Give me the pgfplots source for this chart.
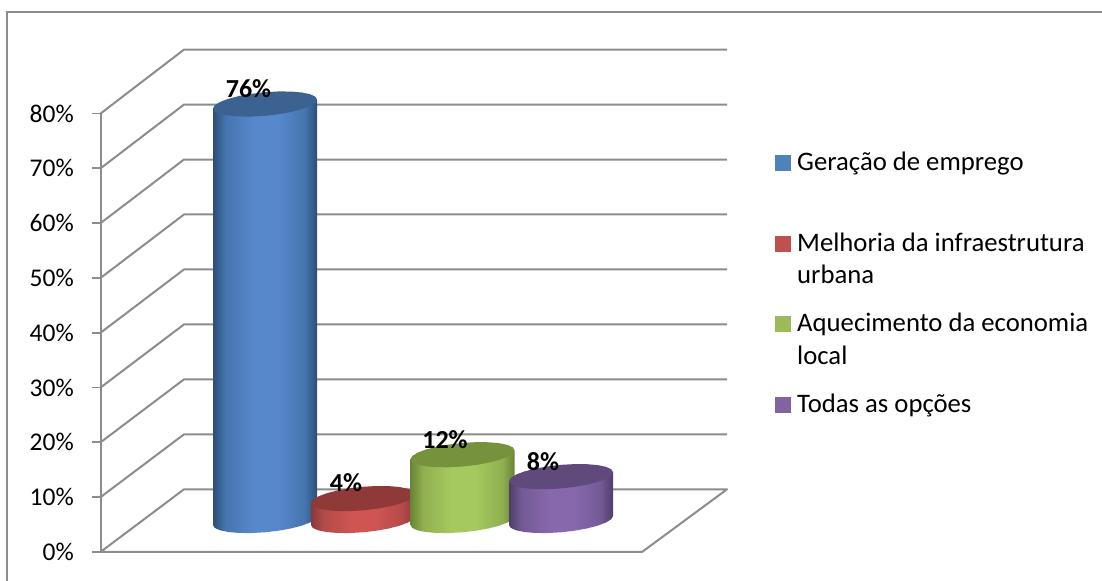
\documentclass[border=0pt]{standalone}
\usepackage{fontspec}
\setmainfont{Carlito}
\usepackage{pgfplots}
\pgfplotsset{compat=1.18}
\usepackage{pgfplotstable}

\definecolor{gridgray}{HTML}{8C8C8C}
\definecolor{framegray}{HTML}{8C8C8C}
\definecolor{blueE}{HTML}{2C4E78}\definecolor{blueM}{HTML}{4675AE}\definecolor{blueL}{HTML}{5788CC}\definecolor{blueT}{HTML}{3C6291}
\definecolor{redE}{HTML}{87383A}\definecolor{redM}{HTML}{B34B49}\definecolor{redL}{HTML}{CF5552}\definecolor{redT}{HTML}{8F3A38}
\definecolor{greenE}{HTML}{6A8436}\definecolor{greenM}{HTML}{90B050}\definecolor{greenL}{HTML}{A6C95F}\definecolor{greenT}{HTML}{76923C}
\definecolor{purpE}{HTML}{4F3D68}\definecolor{purpM}{HTML}{735A95}\definecolor{purpL}{HTML}{8768AD}\definecolor{purpT}{HTML}{5F4A7B}
\definecolor{legblue}{HTML}{4F81BD}\definecolor{legred}{HTML}{C0504D}\definecolor{leggreen}{HTML}{9BBB59}\definecolor{legpurp}{HTML}{8064A2}

% tikz maps 25bp..75bp of the shading onto the path's width
\newcommand{\cylshade}[4]{\pgfdeclarehorizontalshading{#1}{100bp}{color(0bp)=(#2); color(25bp)=(#2); color(31bp)=(#3); color(45bp)=(#4); color(56bp)=(#4); color(69bp)=(#3); color(75bp)=(#2); color(100bp)=(#2)}}
\cylshade{sblue}{blueE}{blueM}{blueL}
\cylshade{sred}{redE}{redM}{redL}
\cylshade{sgreen}{greenE}{greenM}{greenL}
\cylshade{spurp}{purpE}{purpM}{purpL}

% unit outlines: u across, v in depth, t=1 on the bottom rim
\pgfplotstableread{
u v t
-1 0 0
-1 0 1
-0.966 -0.259 1
-0.866 -0.5 1
-0.707 -0.707 1
-0.5 -0.866 1
-0.259 -0.966 1
0 -1 1
0.259 -0.966 1
0.5 -0.866 1
0.707 -0.707 1
0.866 -0.5 1
0.966 -0.259 1
1 0 1
1 0 0
}\bodytable
\pgfplotstableread{
u v
-1 0
-0.966 -0.259
-0.866 -0.5
-0.707 -0.707
-0.5 -0.866
-0.259 -0.966
0 -1
0.259 -0.966
0.5 -0.866
0.707 -0.707
0.866 -0.5
0.966 -0.259
1 0
0.966 0.259
0.866 0.5
0.707 0.707
0.5 0.866
0.259 0.966
0 1
-0.259 0.966
-0.5 0.866
-0.707 0.707
-0.866 0.5
-0.966 0.259
}\toptable

% #1 centre x, #2 value in percent, #3 body shading, #4 top colour
\newcommand{\cyl}[4]{%
  \addplot[draw=none,shade,shading=#3] table[
    x expr=#1+52*\thisrow{u},
    y expr=5.75+(1-\thisrow{t})*#2+2.153*\thisrow{v}+0.82*\thisrow{u}] {\bodytable};
  \addplot[draw=none,fill=#4] table[
    x expr=#1+52*\thisrow{u},
    y expr=5.75+#2+2.153*\thisrow{v}+0.82*\thisrow{u}] {\toptable};
}

\begin{document}
\begin{tikzpicture}[every node/.style={font=\fontsize{26.7}{32}\selectfont}]
\begin{axis}[
  scale only axis,width=626.5pt,height=438.4pt,
  xmin=100.5,xmax=727,ymin=0,ymax=80,
  clip=false,
  hide x axis,
  axis y line=left,
  axis line style={-,gridgray,line width=2pt},
  ytick={0,10,20,30,40,50,60,70,80},
  yticklabels={0\%,10\%,20\%,30\%,40\%,50\%,60\%,70\%,80\%},
  tick align=outside,
  major tick length=8.5pt,
  ytick style={gridgray,line width=1.8pt},
  yticklabel style={font=\fontsize{25.5}{30}\selectfont,inner sep=0pt,xshift=-18pt},
  unbounded coords=jump,
]
% picture frame
\addplot[framegray,line width=1.6pt] coordinates {(7,-5.29) (7,98.5) (1102,98.5)};
% walls and floor
\addplot[gridgray,line width=2pt,line join=round] coordinates {
  (100.5,0) (184,11.44) (727,11.44) (642,0) (100.5,0) (184,nan)
  (100.5,10) (184,21.47) (727,21.47) (184,nan)
  (100.5,20) (184,31.5) (727,31.5) (184,nan)
  (100.5,30) (184,41.53) (727,41.53) (184,nan)
  (100.5,40) (184,51.56) (727,51.56) (184,nan)
  (100.5,50) (184,61.59) (727,61.59) (184,nan)
  (100.5,60) (184,71.62) (727,71.62) (184,nan)
  (100.5,70) (184,81.65) (727,81.65) (184,nan)
  (100.5,80) (184,91.68) (727,91.68)
};
\cyl{265}{76}{sblue}{blueT}
\cyl{363}{4}{sred}{redT}
\cyl{462.5}{12}{sgreen}{greenT}
\cyl{561}{8}{spurp}{purpT}
% data labels
\node[anchor=base,inner sep=0pt,font=\fontsize{26}{30}\selectfont\bfseries] at (axis cs:248.5,82.9) {76\%};
\node[anchor=base,inner sep=0pt,font=\fontsize{26}{30}\selectfont\bfseries] at (axis cs:346,11.0) {4\%};
\node[anchor=base,inner sep=0pt,font=\fontsize{26}{30}\selectfont\bfseries] at (axis cs:445,18.9) {12\%};
\node[anchor=base,inner sep=0pt,font=\fontsize{26}{30}\selectfont\bfseries] at (axis cs:543,14.8) {8\%};
% legend
\addplot[only marks,mark=square*,mark size=7.5pt,color=legblue] coordinates {(782.5,71.1)};
\addplot[only marks,mark=square*,mark size=7.5pt,color=legred] coordinates {(782.5,56.3)};
\addplot[only marks,mark=square*,mark size=7.5pt,color=leggreen] coordinates {(782.5,41.66)};
\addplot[only marks,mark=square*,mark size=7.5pt,color=legpurp] coordinates {(782.5,26.95)};
\node[anchor=base west,inner sep=0pt] at (axis cs:797,69.55) {Geração de emprego};
\node[anchor=base west,inner sep=0pt] at (axis cs:797,54.85) {Melhoria da infraestrutura};
\node[anchor=base west,inner sep=0pt] at (axis cs:797,48.95) {urbana};
\node[anchor=base west,inner sep=0pt] at (axis cs:797,40.15) {Aquecimento da economia};
\node[anchor=base west,inner sep=0pt] at (axis cs:797,34.25) {local};
\node[anchor=base west,inner sep=0pt] at (axis cs:797,25.45) {Todas as opções};
\coordinate (bl) at (axis cs:0,-5.29);
\coordinate (tr) at (axis cs:1102,100.73);
\end{axis}
\pgfresetboundingbox
\path[use as bounding box] (bl) rectangle (tr);
\end{tikzpicture}
\end{document}
